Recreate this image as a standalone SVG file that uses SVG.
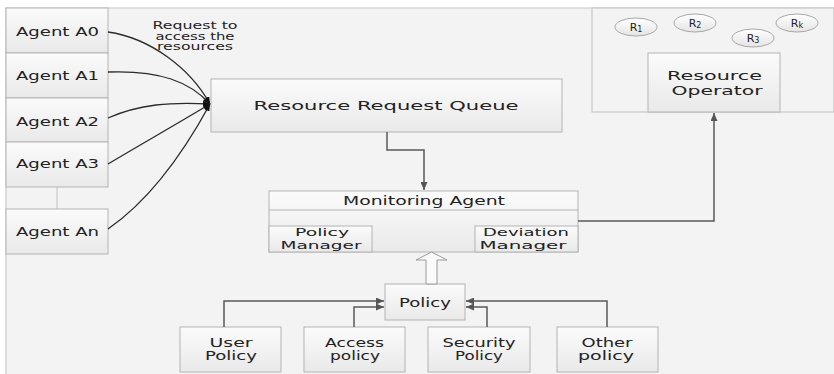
<svg xmlns="http://www.w3.org/2000/svg" width="834" height="374" viewBox="0 0 834 374">
<defs>
<linearGradient id="box" x1="0" y1="0" x2="0" y2="1">
<stop offset="0" stop-color="#fbfbfb"/>
<stop offset="1" stop-color="#e9e9e9"/>
</linearGradient>
<linearGradient id="ell" x1="0" y1="0" x2="0" y2="1">
<stop offset="0" stop-color="#ffffff"/>
<stop offset="1" stop-color="#e4e4e4"/>
</linearGradient>
<marker id="ah" markerWidth="8" markerHeight="7" refX="8" refY="3.5" orient="auto" markerUnits="userSpaceOnUse">
<path d="M0,0 L8,3.5 L0,7 Z" fill="#555"/>
</marker>
<marker id="ahk" markerWidth="7" markerHeight="6" refX="7" refY="3" orient="auto" markerUnits="userSpaceOnUse">
<path d="M0,0 L7,3 L0,6 Z" fill="#111"/>
</marker>
<style>
.bx{fill:url(#box);stroke:#b4b4b4;stroke-width:1}
.t{font-family:"DejaVu Sans","Liberation Sans",sans-serif;fill:#222;text-anchor:middle;font-size:12px}
.s{font-size:10px}
.m{font-size:10.5px}
.r{font-size:11px}
.c{fill:none;stroke:#5a5a5a;stroke-width:1.5}
.k{fill:none;stroke:#2a2a2a;stroke-width:1.3}
</style>
</defs>

<rect x="0" y="0" width="834" height="374" fill="#ffffff"/>
<rect x="6" y="8" width="828" height="366" fill="#f3f3f3"/>
<path d="M6,374 L6,8 L834,8" fill="none" stroke="#c8c8c8" stroke-width="1.2"/>

<g id="resource-pool">
<rect x="592" y="8" width="242" height="104" fill="#f3f3f3" stroke="#c8c8c8" stroke-width="1.2"/>
</g>

<g id="agent-a0"><rect class="bx" x="6" y="8" width="102" height="45"/><text class="t" x="57.5" y="36" textLength="83" lengthAdjust="spacingAndGlyphs">Agent A0</text></g>
<g id="agent-a1"><rect class="bx" x="6" y="53" width="102" height="45"/><text class="t" x="57.5" y="80" textLength="83" lengthAdjust="spacingAndGlyphs">Agent A1</text></g>
<g id="agent-a2"><rect class="bx" x="6" y="98" width="102" height="44"/><text class="t" x="57.5" y="126" textLength="83" lengthAdjust="spacingAndGlyphs">Agent A2</text></g>
<g id="agent-a3"><rect class="bx" x="6" y="142" width="102" height="45"/><text class="t" x="57.5" y="168" textLength="83" lengthAdjust="spacingAndGlyphs">Agent A3</text></g>
<g id="agent-an"><rect class="bx" x="6" y="209" width="102" height="45"/><text class="t" x="57.5" y="236" textLength="83" lengthAdjust="spacingAndGlyphs">Agent An</text></g>

<g id="request-label">
<text class="t s" x="195" y="29" textLength="85" lengthAdjust="spacingAndGlyphs">Request to</text>
<text class="t s" x="195" y="39.5" textLength="79" lengthAdjust="spacingAndGlyphs">access the</text>
<text class="t s" x="195" y="50" textLength="76" lengthAdjust="spacingAndGlyphs">resources</text>
</g>

<g id="resource-request-queue"><rect class="bx" x="211" y="79" width="351" height="53"/><text class="t" x="386" y="110" font-size="13" textLength="265" lengthAdjust="spacingAndGlyphs">Resource Request Queue</text></g>

<g id="monitoring-agent">
<rect class="bx" x="269" y="191" width="309" height="61"/>
<line x1="269" y1="210" x2="578" y2="210" stroke="#b4b4b4"/>
<text class="t" x="424" y="205" textLength="162" lengthAdjust="spacingAndGlyphs">Monitoring Agent</text>
</g>
<g id="policy-manager"><rect class="bx" x="269" y="226" width="103" height="26"/>
<text class="t m" x="322" y="236" textLength="54" lengthAdjust="spacingAndGlyphs">Policy</text>
<text class="t m" x="321" y="248.5" textLength="81" lengthAdjust="spacingAndGlyphs">Manager</text></g>
<g id="deviation-manager"><rect class="bx" x="475" y="226" width="103" height="26"/>
<text class="t m" x="526" y="236" textLength="86" lengthAdjust="spacingAndGlyphs">Deviation</text>
<text class="t m" x="523" y="248.5" textLength="87" lengthAdjust="spacingAndGlyphs">Manager</text></g>

<g id="policy"><rect class="bx" x="385" y="284" width="80" height="36"/><text class="t" x="425" y="307" textLength="52" lengthAdjust="spacingAndGlyphs">Policy</text></g>

<g id="user-policy"><rect class="bx" x="180" y="327" width="101" height="45"/>
<text class="t" x="231" y="347" textLength="43" lengthAdjust="spacingAndGlyphs">User</text>
<text class="t" x="231" y="360" textLength="52" lengthAdjust="spacingAndGlyphs">Policy</text></g>
<g id="access-policy"><rect class="bx" x="304" y="327" width="101" height="45"/>
<text class="t" x="354.5" y="347" textLength="59" lengthAdjust="spacingAndGlyphs">Access</text>
<text class="t" x="355" y="360" textLength="50" lengthAdjust="spacingAndGlyphs">policy</text></g>
<g id="security-policy"><rect class="bx" x="428" y="327" width="102" height="45"/>
<text class="t" x="479" y="347" textLength="73" lengthAdjust="spacingAndGlyphs">Security</text>
<text class="t" x="479" y="360" textLength="48" lengthAdjust="spacingAndGlyphs">Policy</text></g>
<g id="other-policy"><rect class="bx" x="557" y="327" width="101" height="45"/>
<text class="t" x="607" y="347" textLength="51" lengthAdjust="spacingAndGlyphs">Other</text>
<text class="t" x="606" y="360" textLength="56" lengthAdjust="spacingAndGlyphs">policy</text></g>

<g id="resource-operator"><rect class="bx" x="648" y="53" width="132" height="59"/>
<text class="t" x="714.5" y="80" textLength="95" lengthAdjust="spacingAndGlyphs">Resource</text>
<text class="t" x="717" y="95" textLength="91" lengthAdjust="spacingAndGlyphs">Operator</text></g>

<g id="r1"><ellipse cx="636" cy="27" rx="21" ry="9" fill="url(#ell)" stroke="#a8a8a8"/><text class="t r" x="636" y="31">R<tspan font-size="8" dy="1">1</tspan></text></g>
<g id="r2"><ellipse cx="695" cy="23" rx="21" ry="9" fill="url(#ell)" stroke="#a8a8a8"/><text class="t r" x="695" y="27">R<tspan font-size="8" dy="1">2</tspan></text></g>
<g id="r3"><ellipse cx="753" cy="38" rx="21" ry="9" fill="url(#ell)" stroke="#a8a8a8"/><text class="t r" x="753" y="42">R<tspan font-size="8" dy="1">3</tspan></text></g>
<g id="rk"><ellipse cx="797" cy="23" rx="21" ry="9" fill="url(#ell)" stroke="#a8a8a8"/><text class="t r" x="797" y="27">R<tspan font-size="8" dy="1">k</tspan></text></g>

<g id="connectors">
<line x1="57" y1="187" x2="57" y2="209" stroke="#c0c0c0" stroke-width="1"/>
<path class="k" d="M108,32 C150,38 190,68 210,104" marker-end="url(#ahk)"/>
<path class="k" d="M108,72 C160,70 190,82 210,104" marker-end="url(#ahk)"/>
<path class="k" d="M108,118 C140,104 170,102 210,104" marker-end="url(#ahk)"/>
<path class="k" d="M108,164 C140,145 175,125 210,104" marker-end="url(#ahk)"/>
<path class="k" d="M108,229 C150,200 185,150 210,104" marker-end="url(#ahk)"/>
<path class="c" d="M387,132 L387,150 L424,150 L424,190" marker-end="url(#ah)"/>
<path class="c" d="M578,221 L714,221 L714,113" marker-end="url(#ah)"/>
<path class="c" d="M224,327 L224,301 L384,301" marker-end="url(#ah)"/>
<path class="c" d="M354,327 L354,307 L384,307" marker-end="url(#ah)"/>
<path class="c" d="M487,327 L487,307 L466,307" marker-end="url(#ah)"/>
<path class="c" d="M607,327 L607,301 L466,301" marker-end="url(#ah)"/>
<path d="M426,284 L426,260 L416,260 L431.5,252 L447,260 L437,260 L437,284 Z" fill="#fafafa" stroke="#9a9a9a" stroke-width="1"/>
</g>
</svg>
